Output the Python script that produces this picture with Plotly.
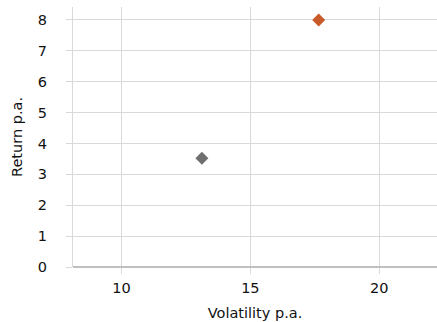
import plotly.graph_objects as go

volatility = [13.12, 17.65]
returns = [3.52, 8.0]
colors = ["#6F6F6F", "#C85A2A"]

x_ticks = [10, 15, 20]
y_ticks = [0, 1, 2, 3, 4, 5, 6, 7, 8]

fig = go.Figure()
for xv, yv, c in zip(volatility, returns, colors):
    fig.add_trace(go.Scatter(
        x=[xv], y=[yv], mode="markers",
        marker=dict(symbol="diamond", size=10, color=c),
        showlegend=False, cliponaxis=False,
    ))

font = dict(family="DejaVu Sans", size=14.5, color="#111111")
fig.update_layout(
    width=437, height=322,
    margin=dict(l=73, r=0, t=7, b=55),
    plot_bgcolor="white", paper_bgcolor="white",
    font=font,
    xaxis=dict(
        range=[8.12, 22.24], tickvals=x_ticks, showgrid=True,
        gridcolor="#D9D9D9", gridwidth=1,
        ticks="outside", ticklen=6, tickcolor="#D9D9D9",
        zeroline=False, showline=False,
        title=dict(text="Volatility p.a.", standoff=12, font=font),
        ticklabelstandoff=2,
    ),
    yaxis=dict(
        range=[0, 8.42], tickvals=y_ticks, showgrid=True,
        gridcolor="#D9D9D9", gridwidth=1,
        ticks="outside", ticklen=6, tickcolor="#D9D9D9",
        zeroline=True, zerolinecolor="#BFBFBF", zerolinewidth=2,
        showline=True, linecolor="#D9D9D9", linewidth=1,
        title=dict(text="Return p.a.", standoff=11, font=font),
        ticklabelstandoff=16,
    ),
)
fig.write_html("out.html")
